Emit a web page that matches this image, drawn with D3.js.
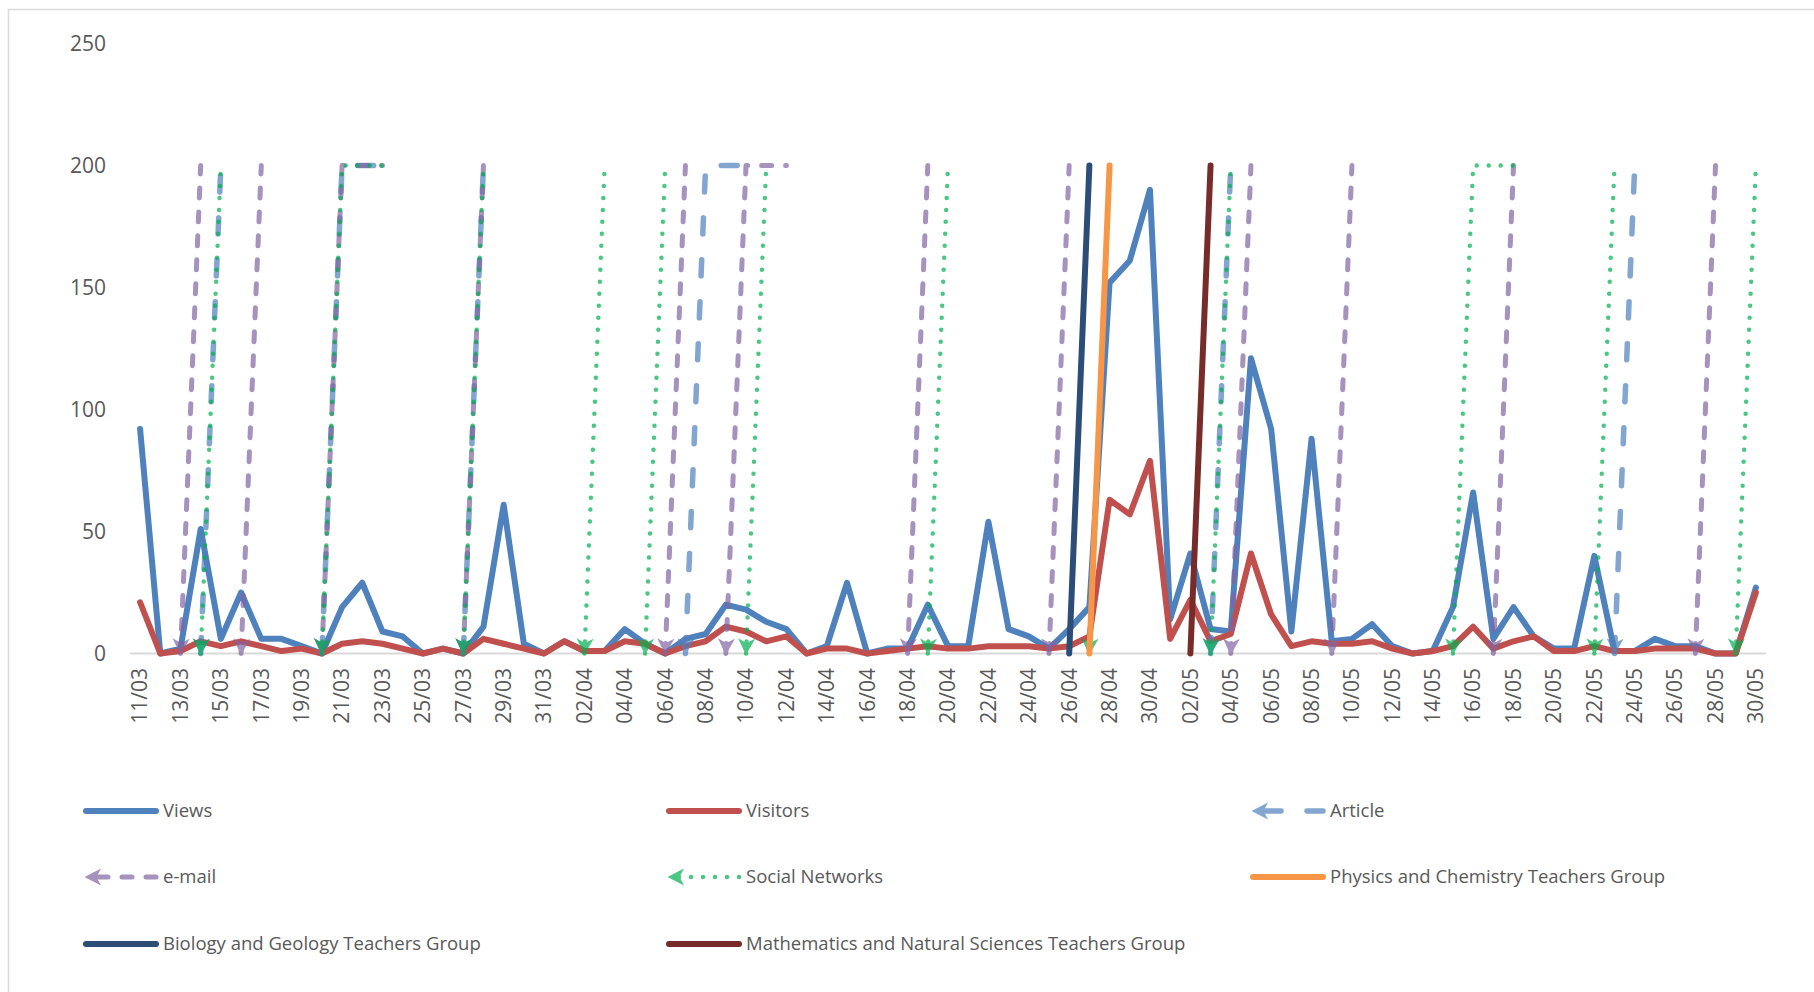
<!DOCTYPE html>
<html>
<head>
<meta charset="utf-8">
<script src="https://cdn.jsdelivr.net/npm/d3@7"></script>
<style>
  body { margin: 0; background: #fff; }
  svg { display: block; font-family: "Open Sans", sans-serif; }
</style>
</head>
<body>
<svg id="chart" width="1814" height="992"></svg>
<script>
const N = null;

// Daily categories, 11 March to 30 May
const days = [
  "11/03","12/03","13/03","14/03","15/03","16/03","17/03","18/03","19/03","20/03",
  "21/03","22/03","23/03","24/03","25/03","26/03","27/03","28/03","29/03","30/03",
  "31/03","01/04","02/04","03/04","04/04","05/04","06/04","07/04","08/04","09/04",
  "10/04","11/04","12/04","13/04","14/04","15/04","16/04","17/04","18/04","19/04",
  "20/04","21/04","22/04","23/04","24/04","25/04","26/04","27/04","28/04","29/04",
  "30/04","01/05","02/05","03/05","04/05","05/05","06/05","07/05","08/05","09/05",
  "10/05","11/05","12/05","13/05","14/05","15/05","16/05","17/05","18/05","19/05",
  "20/05","21/05","22/05","23/05","24/05","25/05","26/05","27/05","28/05","29/05",
  "30/05"
];

const views = [
  92, 0, 2, 51, 6, 25, 6, 6, 3, 0,
  19, 29, 9, 7, 0, 2, 0, 11, 61, 4,
  0, 5, 1, 1, 10, 4, 0, 6, 8, 20,
  18, 13, 10, 0, 3, 29, 0, 2, 2, 20,
  3, 3, 54, 10, 7, 2, 10, 19, 152, 161,
  190, 14, 41, 10, 9, 121, 92, 9, 88, 5,
  6, 12, 3, 0, 1, 19, 66, 6, 19, 7,
  2, 2, 40, 1, 1, 6, 3, 3, 0, 0,
  27
];

const visitors = [
  21, 0, 1, 5, 3, 5, 3, 1, 2, 0,
  4, 5, 4, 2, 0, 2, 0, 6, 4, 2,
  0, 5, 1, 1, 5, 4, 0, 3, 5, 11,
  9, 5, 7, 0, 2, 2, 0, 1, 2, 3,
  2, 2, 3, 3, 3, 2, 3, 7, 63, 57,
  79, 6, 22, 5, 8, 41, 16, 3, 5, 4,
  4, 5, 2, 0, 1, 3, 11, 2, 5, 7,
  1, 1, 3, 1, 1, 2, 2, 2, 0, 0,
  25
];

// Promotion events: 0 on the day before, 200 while active
const article = [
  N, N, N, 0, 200, N, N, N, N, 0,
  200, 200, 200, N, N, N, 0, 200, N, N,
  N, N, N, N, N, N, N, 0, 200, 200,
  200, N, N, N, N, N, N, N, N, N,
  N, N, N, N, N, N, N, N, N, N,
  N, N, N, 0, 200, N, N, N, N, N,
  N, N, N, N, N, N, N, N, N, N,
  N, N, N, 0, 200, N, N, N, N, N,
  N
];

const email = [
  N, N, 0, 200, N, 0, 200, N, N, 0,
  200, 200, 200, N, N, N, 0, 200, N, N,
  N, N, N, N, N, N, 0, 200, N, 0,
  200, 200, 200, N, N, N, N, N, 0, 200,
  N, N, N, N, N, 0, 200, N, N, N,
  N, N, N, N, 0, 200, N, N, N, 0,
  200, N, N, N, N, N, N, 0, 200, N,
  N, N, N, N, N, N, N, 0, 200, N,
  N
];

const social = [
  N, N, N, 0, 200, N, N, N, N, 0,
  200, 200, 200, N, N, N, 0, 200, N, N,
  N, N, 0, 200, N, 0, 200, N, N, N,
  0, 200, N, N, N, N, N, N, N, 0,
  200, N, N, N, N, N, N, 0, 200, N,
  N, N, N, 0, 200, N, N, N, N, N,
  N, N, N, N, N, 0, 200, 200, 200, N,
  N, N, 0, 200, N, N, N, N, N, 0,
  200
];

const physics = [
  N, N, N, N, N, N, N, N, N, N,
  N, N, N, N, N, N, N, N, N, N,
  N, N, N, N, N, N, N, N, N, N,
  N, N, N, N, N, N, N, N, N, N,
  N, N, N, N, N, N, N, 0, 200, N,
  N, N, N, N, N, N, N, N, N, N,
  N, N, N, N, N, N, N, N, N, N,
  N, N, N, N, N, N, N, N, N, N,
  N
];

const biology = [
  N, N, N, N, N, N, N, N, N, N,
  N, N, N, N, N, N, N, N, N, N,
  N, N, N, N, N, N, N, N, N, N,
  N, N, N, N, N, N, N, N, N, N,
  N, N, N, N, N, N, 0, 200, N, N,
  N, N, N, N, N, N, N, N, N, N,
  N, N, N, N, N, N, N, N, N, N,
  N, N, N, N, N, N, N, N, N, N,
  N
];

const maths = [
  N, N, N, N, N, N, N, N, N, N,
  N, N, N, N, N, N, N, N, N, N,
  N, N, N, N, N, N, N, N, N, N,
  N, N, N, N, N, N, N, N, N, N,
  N, N, N, N, N, N, N, N, N, N,
  N, N, 0, 200, N, N, N, N, N, N,
  N, N, N, N, N, N, N, N, N, N,
  N, N, N, N, N, N, N, N, N, N,
  N
];

const yTicks = [0, 50, 100, 150, 200, 250];

const seriesNames = ["Views", "Visitors", "Article", "e-mail", "Social Networks",
  "Physics and Chemistry Teachers Group", "Biology and Geology Teachers Group",
  "Mathematics and Natural Sciences Teachers Group"];

// Visual styles per series (drawing order = legend order)
const series = [
  { name: seriesNames[0], values: views,    color: "#4F81BD", width: 6,   dash: null,    opacity: 1,   arrow: false },
  { name: seriesNames[1], values: visitors, color: "#C0504D", width: 6,   dash: null,    opacity: 1,   arrow: false },
  { name: seriesNames[2], values: article,  color: "#4F81BD", width: 5.5, dash: "16 26", opacity: 0.7, arrow: true },
  { name: seriesNames[3], values: email,    color: "#8064A2", width: 5,   dash: "10 14", opacity: 0.7, arrow: true },
  { name: seriesNames[4], values: social,   color: "#00B050", width: 4.5, dash: "0 12",  opacity: 0.7, arrow: true },
  { name: seriesNames[5], values: physics,  color: "#F79646", width: 6,   dash: null,    opacity: 1,   arrow: false },
  { name: seriesNames[6], values: biology,  color: "#2C4D75", width: 6,   dash: null,    opacity: 1,   arrow: false },
  { name: seriesNames[7], values: maths,    color: "#772C2A", width: 6,   dash: null,    opacity: 1,   arrow: false }
];

const svg = d3.select("#chart");
const textColor = "#595959";

// chart area frame
svg.append("rect")
  .attr("x", 8.5).attr("y", 9.5)
  .attr("width", 1830).attr("height", 1000)
  .attr("fill", "#fff").attr("stroke", "#d9d9d9").attr("stroke-width", 1.5);

const x = d3.scalePoint().domain(days).range([130, 1766]).padding(0.5);
const y = d3.scaleLinear().domain([0, 250]).range([653.5, 43.5]);

// arrowhead markers
const defs = svg.append("defs");
series.forEach((s, k) => {
  if (!s.arrow) return;
  defs.append("marker")
    .attr("id", "arrow" + k)
    .attr("markerUnits", "userSpaceOnUse")
    .attr("viewBox", "-18 -10 20 20")
    .attr("markerWidth", 20).attr("markerHeight", 20)
    .attr("refX", 0).attr("refY", 0)
    .attr("orient", "auto-start-reverse")
    .append("path")
    .attr("d", "M1.5,0 L-15,-8.5 L-10.5,0 L-15,8.5 Z")
    .attr("fill", s.color);
});

// y axis labels
const yAxis = d3.axisLeft(y).tickValues(yTicks).tickSize(0).tickPadding(0);
svg.append("g")
  .attr("transform", "translate(106,0)")
  .call(yAxis)
  .call(g => g.select(".domain").remove())
  .call(g => g.selectAll("text")
    .attr("fill", textColor)
    .style("font-family", "'Open Sans', sans-serif")
    .style("font-size", "21px"));

// category axis line
svg.append("line")
  .attr("x1", 130).attr("x2", 1766)
  .attr("y1", y(0)).attr("y2", y(0))
  .attr("stroke", "#d9d9d9").attr("stroke-width", 2);

// category labels, every second day
const shown = days.filter((d, i) => i % 2 === 0);
svg.append("g").selectAll("text")
  .data(shown)
  .join("text")
  .attr("transform", d => `translate(${x(d)},668) rotate(-90)`)
  .attr("text-anchor", "end")
  .attr("dy", "0.35em")
  .attr("fill", textColor)
  .style("font-size", "21px")
  .text(d => d);

// split a series into runs of consecutive defined values
function runs(values) {
  const out = [];
  let cur = [];
  values.forEach((v, i) => {
    if (v === null) { if (cur.length) out.push(cur); cur = []; }
    else cur.push({ day: days[i], v });
  });
  if (cur.length) out.push(cur);
  return out.filter(r => r.length > 1);
}

const line = d3.line().x(p => x(p.day)).y(p => y(p.v));

const plot = svg.append("g");
series.forEach((s, k) => {
  runs(s.values).forEach(r => {
    const g = plot.append("g").attr("opacity", s.opacity);
    const p = g.append("path")
      .attr("d", line(r))
      .attr("fill", "none")
      .attr("stroke", s.color)
      .attr("stroke-width", s.width)
      .attr("stroke-linecap", "round")
      .attr("stroke-linejoin", "round");
    if (s.dash) p.attr("stroke-dasharray", s.dash);
    if (s.arrow) p.attr("marker-start", `url(#arrow${k})`);
  });
});

// legend
const legendCols = [86, 669, 1253];
const legendRows = [811, 877, 944];
const legend = svg.append("g");
series.forEach((s, k) => {
  const lx = legendCols[k % 3];
  const ly = legendRows[Math.floor(k / 3)];
  const g = legend.append("g").attr("opacity", s.opacity);
  // drawn right to left so the arrow sits on the left end
  const p = g.append("path")
    .attr("d", `M${lx + 70},${ly} L${lx},${ly}`)
    .attr("fill", "none")
    .attr("stroke", s.color)
    .attr("stroke-width", s.width)
    .attr("stroke-linecap", "round");
  if (s.dash) p.attr("stroke-dasharray", s.dash);
  if (s.arrow) p.attr("marker-end", `url(#arrow${k})`);
  legend.append("text")
    .attr("x", lx + 77).attr("y", ly)
    .attr("dy", "0.35em")
    .attr("fill", textColor)
    .style("font-size", "18.5px")
    .text(s.name);
});
</script>
</body>
</html>
